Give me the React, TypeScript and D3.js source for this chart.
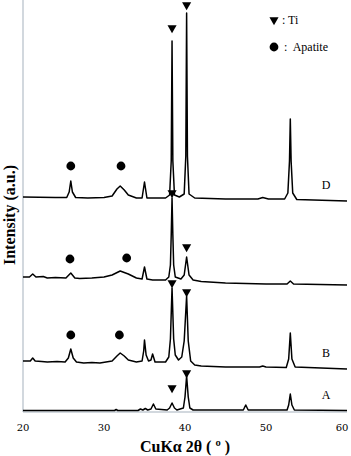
import React, { useEffect, useRef } from 'react'
import * as d3 from 'd3'

// XRD patterns, points: [2θ, intensity]
const patternA: [number, number][] = [
  [20, 1.5], [25, 1.5], [31.3, 1.5], [31.5, 2.5], [31.7, 1.5], [34.2, 1.5], [34.5, 3], [34.8, 2],
  [35.1, 3.5], [35.4, 2], [35.8, 3], [36.1, 8], [36.4, 3], [37.8, 2], [38.1, 4], [38.4, 9],
  [38.7, 4], [39.0, 2], [39.8, 4], [40.0, 15], [40.2, 36], [40.4, 15], [40.6, 4], [41, 2],
  [47.2, 2], [47.5, 7], [47.8, 2], [52.6, 2], [52.8, 7], [53.0, 18], [53.2, 7], [53.5, 2], [60, 1.5],
]
const patternB: [number, number][] = [
  [20, 8], [20.9, 8], [21.2, 11], [21.5, 8], [22.3, 7.5], [23, 7], [24.2, 7.5], [25.2, 7], [25.6, 11],
  [25.9, 20], [26.2, 11], [26.6, 7], [27.5, 6], [28.5, 6.5], [29.5, 6], [31, 8], [31.6, 13],
  [32, 16], [32.5, 13], [33, 9], [34, 7], [34.7, 8], [34.9, 18], [35.0, 29], [35.2, 14], [35.5, 8],
  [35.8, 9], [36.0, 15], [36.3, 7], [37.6, 7], [38.0, 12], [38.2, 30], [38.4, 81], [38.6, 30],
  [38.8, 14], [39.2, 9], [39.6, 12], [39.9, 28], [40.2, 73], [40.4, 28], [40.7, 8], [41.2, 4],
  [42, 3], [45, 2], [49.2, 2], [49.6, 3], [50, 2], [52.5, 1.5], [52.8, 10], [53.0, 36], [53.2, 10],
  [53.6, 2], [60, 0],
]
const patternC: [number, number][] = [
  [20, 8], [20.8, 8], [21.2, 11], [21.6, 8], [22.5, 8.5], [23, 7], [24, 7.5], [25.3, 7], [25.9, 12],
  [26.4, 7], [27, 6.5], [28.5, 7], [30, 8], [31, 10], [32, 14], [33, 11], [34, 7], [34.7, 6],
  [35.0, 18], [35.3, 6], [36, 5], [37.6, 5], [38.0, 8], [38.2, 20], [38.3, 50], [38.4, 87],
  [38.5, 50], [38.6, 20], [38.8, 8], [39.5, 6], [39.9, 10], [40.1, 22], [40.2, 28], [40.3, 22],
  [40.5, 10], [41, 5], [42, 3.5], [45, 2], [50, 1], [52.6, 1], [53.0, 4], [53.4, 1], [60, 0],
]
const patternD: [number, number][] = [
  [20, 4], [24, 3.5], [25.4, 3.5], [25.7, 9], [25.9, 20], [26.1, 9], [26.5, 3.5], [28, 3],
  [30, 3.5], [31, 5], [31.6, 12], [32, 15], [32.5, 11], [33, 6], [34, 3], [34.7, 3], [35.0, 19],
  [35.3, 3], [37.6, 3], [38.1, 6], [38.3, 40], [38.4, 160], [38.5, 40], [38.7, 6], [39.3, 4],
  [39.9, 7], [40.1, 45], [40.2, 188], [40.3, 45], [40.5, 7], [41.2, 3], [45, 2], [49, 2],
  [49.6, 3.5], [50.3, 2], [52.3, 2], [52.7, 8], [52.9, 40], [53.0, 82], [53.1, 40], [53.3, 8],
  [53.8, 1.5], [60, 0],
]
const patterns = [patternA, patternB, patternC, patternD]
const offsets = [0, 43, 127, 211]
const sampleLabels = ['A', 'B', '', 'D']

// phase markers: [2θ, height on the chart]
const tiMarks: [number, number][] = [
  [38.4, 384], [40.2, 407], [38.4, 219], [40.2, 165], [38.4, 129], [40.2, 120], [38.4, 24], [40.2, 39],
]
const apatiteMarks: [number, number][] = [
  [25.9, 246], [32.1, 246], [25.8, 153], [32.8, 154], [25.9, 77], [31.9, 77],
]
const xTicks = [20, 30, 40, 50, 60]

const App: React.FC = () => {
  const svgRef = useRef<SVGSVGElement | null>(null)

  useEffect(() => {
    if (!svgRef.current) return
    const svg = d3.select(svgRef.current)
    svg.selectAll('*').remove()

    const x = d3.scaleLinear().domain([20, 60]).range([23, 347])
    const y = d3.scaleLinear().domain([0, 400]).range([412, 12])

    // axes: light grey left and bottom lines
    svg.append('line')
      .attr('x1', 23).attr('x2', 23).attr('y1', 0).attr('y2', 412)
      .attr('stroke', '#c3cbd3').attr('stroke-width', 1.5)
    svg.append('line')
      .attr('x1', 23).attr('x2', 347).attr('y1', 412).attr('y2', 412)
      .attr('stroke', '#c3cbd3').attr('stroke-width', 1.5)

    svg.append('g')
      .selectAll('text')
      .data(xTicks)
      .join('text')
      .attr('x', d => Math.min(x(d), 342))
      .attr('y', 431)
      .attr('text-anchor', 'middle')
      .attr('font-family', '"DejaVu Serif", serif')
      .attr('font-size', 10)
      .text(d => d)

    patterns.forEach((pts, i) => {
      const line = d3.line<[number, number]>()
        .x(d => x(d[0]))
        .y(d => y(d[1] + offsets[i]))
      svg.append('path')
        .attr('d', line(pts))
        .attr('fill', 'none')
        .attr('stroke', '#000')
        .attr('stroke-width', 1.5)
        .attr('stroke-linejoin', 'round')
      if (sampleLabels[i]) {
        const base = pts[pts.length - 1][1] + offsets[i]
        svg.append('text')
          .attr('x', 326)
          .attr('y', y(base) - 12)
          .attr('text-anchor', 'middle')
          .attr('font-family', '"Liberation Serif", serif')
          .attr('font-size', 12)
          .text(sampleLabels[i])
      }
    })

    const tri = d3.symbol().type(d3.symbolTriangle).size(36)
    svg.append('g')
      .selectAll('path')
      .data(tiMarks)
      .join('path')
      .attr('d', tri)
      .attr('transform', d => `translate(${x(d[0])},${y(d[1])}) rotate(180)`)
      .attr('fill', '#000')

    svg.append('g')
      .selectAll('circle')
      .data(apatiteMarks)
      .join('circle')
      .attr('cx', d => x(d[0]))
      .attr('cy', d => y(d[1]))
      .attr('r', 4.4)
      .attr('fill', '#000')

    // legend
    svg.append('path')
      .attr('d', tri)
      .attr('transform', 'translate(274,20) rotate(180)')
      .attr('fill', '#000')
    svg.append('circle').attr('cx', 274).attr('cy', 47).attr('r', 4.4).attr('fill', '#000')
    const lg = svg.append('g')
      .attr('font-family', '"Liberation Serif", serif')
      .attr('font-size', 12)
    lg.append('text').attr('x', 282).attr('y', 24).text(': Ti')
    lg.append('text').attr('x', 284).attr('y', 51).attr('xml:space', 'preserve').text(':  Apatite')

    svg.append('text')
      .attr('x', 185)
      .attr('y', 452)
      .attr('text-anchor', 'middle')
      .attr('font-family', '"Liberation Serif", serif')
      .attr('font-weight', 'bold')
      .attr('font-size', 16)
      .text('CuKα 2θ ( º )')

    svg.append('text')
      .attr('transform', 'translate(15,215) rotate(-90)')
      .attr('text-anchor', 'middle')
      .attr('font-family', '"Liberation Serif", serif')
      .attr('font-weight', 'bold')
      .attr('font-size', 16)
      .text('Intensity (a.u.)')
  }, [])

  return (
    <svg
      ref={svgRef}
      width={351}
      height={456}
      style={{ position: 'absolute', left: 0, top: 0, background: '#fff' }}
    />
  )
}

export default App
